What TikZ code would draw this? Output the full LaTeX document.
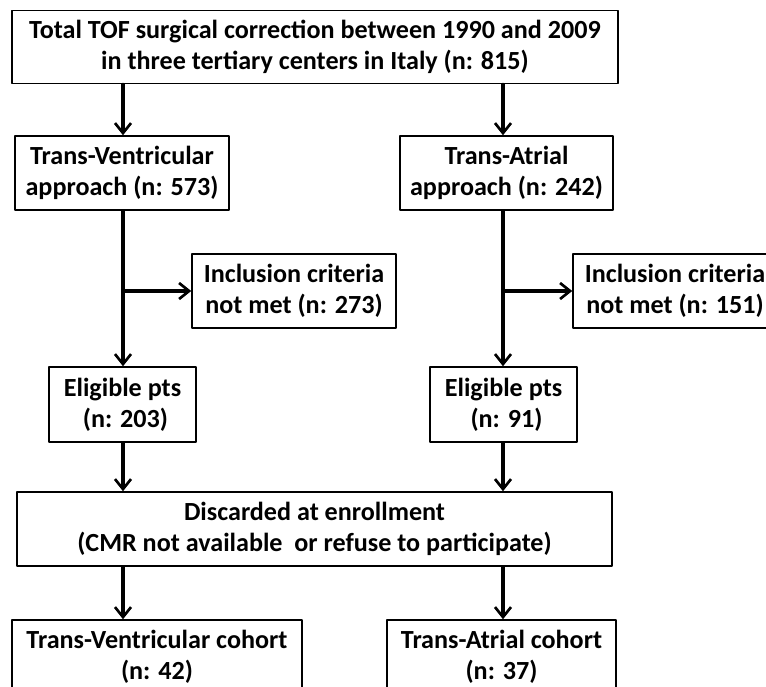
\documentclass[tikz,border=0pt]{standalone}
\usepackage{fontspec}
\setmainfont{Carlito}
\usetikzlibrary{arrows.meta}

\begin{document}
\begin{tikzpicture}[x=0.75pt,y=-0.75pt,line cap=round,line join=round,
  box/.style={draw,line width=1.2pt,align=center,inner sep=0pt,
    font=\fontsize{19.6}{23.2}\selectfont\bfseries},
  arr/.style={line width=2.3pt,-{Straight Barb[length=7.5pt,width=12pt,line width=2pt]}}]
\useasboundingbox (0,0) rectangle (766,686);
\clip (0,0) rectangle (766,686);
\coordinate (colL) at (123,0);
\coordinate (colR) at (503,0);
\node[box,minimum width=454.5pt,minimum height=54.75pt] (top) at (315,47)
  {Total TOF surgical correction between 1990 and 2009\\in three tertiary centers in Italy (n: 815)};
\node[box,minimum width=160.5pt,minimum height=55.5pt] (tv) at (122,173)
  {Trans-Ventricular\\approach (n: 573)};
\node[box,minimum width=160pt,minimum height=55.5pt] (ta) at (506.5,173)
  {Trans-Atrial\\approach (n: 242)};
\node[box,minimum width=153pt,minimum height=55.5pt] (inclL) at (294,291)
  {Inclusion criteria\\not met (n: 273)};
\node[box,minimum width=153pt,minimum height=55.5pt] (inclR) at (675,291)
  {Inclusion criteria\\not met (n: 151)};
\node[box,minimum width=110.25pt,minimum height=56.25pt] (eligL) at (122.5,404.5)
  {Eligible pts\\\ (n: 203)};
\node[box,minimum width=110.25pt,minimum height=56.25pt] (eligR) at (503.5,404.5)
  {Eligible pts\\\ (n: 91)};
\node[box,minimum width=446.25pt,minimum height=55.5pt] (disc) at (314.5,529)
  {Discarded at enrollment\\(CMR not available~ or refuse to participate)};
\node[box,minimum width=217.5pt,minimum height=55.5pt] (cohTV) at (157,657)
  {Trans-Ventricular cohort\\(n: 42)};
\node[box,minimum width=171.75pt,minimum height=55.5pt] (cohTA) at (501.5,657)
  {Trans-Atrial cohort\\(n: 37)};
\draw[arr] (colL |- top.south) -- (colL |- tv.north);
\draw[arr] (colR |- top.south) -- (colR |- ta.north);
\draw[arr] (colL |- tv.south) -- (colL |- eligL.north);
\draw[arr] (colR |- ta.south) -- (colR |- eligR.north);
\draw[arr] (colL |- inclL.west) -- (inclL.west);
\draw[arr] (colR |- inclR.west) -- (inclR.west);
\draw[arr] (colL |- eligL.south) -- (colL |- disc.north);
\draw[arr] (colR |- eligR.south) -- (colR |- disc.north);
\draw[arr] (colL |- disc.south) -- (colL |- cohTV.north);
\draw[arr] (colR |- disc.south) -- (colR |- cohTA.north);
\end{tikzpicture}
\end{document}
